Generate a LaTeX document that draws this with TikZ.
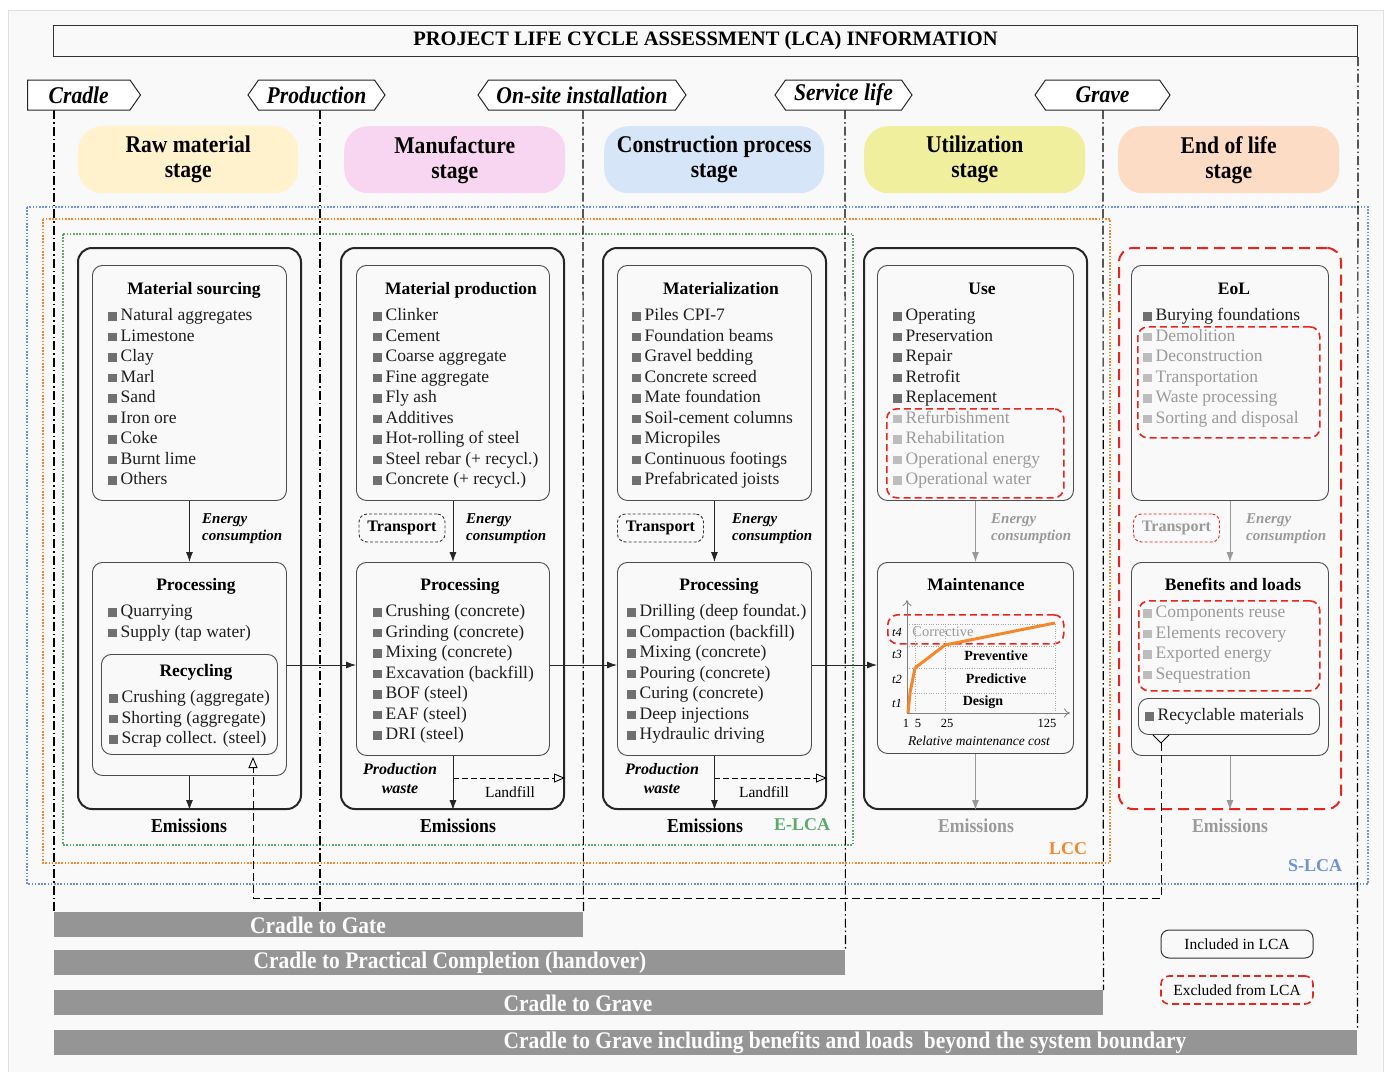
\documentclass[tikz,border=0pt]{standalone}
\usepackage{fontspec}
\setmainfont{Liberation Serif}
\newfontfamily\condfont[FakeStretch=0.9]{Liberation Serif}
\usetikzlibrary{arrows.meta,shapes.symbols,calc}

\definecolor{txt}{HTML}{1E1E1E}
\definecolor{txtgray}{HTML}{9A9A9A}
\definecolor{sqdark}{HTML}{707070}
\definecolor{sqlight}{HTML}{BDBDBD}
\definecolor{exred}{HTML}{E8241C}
\definecolor{bargray}{HTML}{959595}
\definecolor{elca}{HTML}{5DAA6C}
\definecolor{lcc}{HTML}{F5862A}
\definecolor{slca}{HTML}{6F92D8}
\definecolor{rawy}{HTML}{FFF2CC}
\definecolor{manp}{HTML}{F8D6F1}
\definecolor{conb}{HTML}{D6E6F8}
\definecolor{utly}{HTML}{EFEF9E}
\definecolor{eolo}{HTML}{FDDCC6}
\definecolor{bgc}{HTML}{F9F9F9}

\newcommand{\fsz}[2]{\fontsize{#1}{#2}\selectfont}
\newcommand{\sqd}{\textcolor{sqdark}{\rule{8.5pt}{8.5pt}}\hspace{4pt}}
\newcommand{\sql}{\textcolor{sqlight}{\rule{8.5pt}{8.5pt}}\hspace{4pt}}

\tikzset{
  bigbox/.style={draw=black!85, line width=2pt, rounded corners=14pt, anchor=north west, inner sep=0pt},
  inbox/.style={draw=black!70, line width=0.9pt, rounded corners=10pt, anchor=north west, inner sep=0pt},
  exbox/.style={draw=exred, line width=1.6pt, dash pattern=on 7pt off 4pt, rounded corners=10pt, anchor=north west, inner sep=0pt},
  stagebox/.style={rounded corners=24pt, anchor=north west, inner sep=0pt, align=center, font=\condfont\bfseries\fsz{24}{25}},
  tag/.style={draw=black!85, line width=1pt, shape=signal, signal pointer angle=110, fill=white, inner sep=0pt, minimum height=30, font=\condfont\bfseries\itshape\fsz{24}{25}},
  item/.style={anchor=base west, inner sep=0pt, text=txt, font=\fsz{17.5}{20}},
  gitem/.style={item, text=txtgray},
  ttl/.style={anchor=base, inner sep=0pt, font=\bfseries\fsz{17.5}{20}},
  ecs/.style={anchor=north west, inner sep=0pt, align=left, font=\bfseries\itshape\fsz{15}{17.5}},
  pws/.style={anchor=north, inner sep=0pt, align=center, font=\bfseries\itshape\fsz{16}{19}},
  emis/.style={anchor=base, inner sep=0pt, font=\condfont\bfseries\fsz{19.7}{20}},
  tbox/.style={draw=black!80, line width=0.9pt, dash pattern=on 3pt off 2pt, rounded corners=8pt, minimum width=86, minimum height=28, inner sep=0pt, font=\bfseries\fsz{16}{16}},
  arr/.style={-{Latex[length=10pt,width=7pt]}, line width=0.9pt, draw=black!85},
  garr/.style={arr, draw=gray!80},
  lfarr/.style={-{Triangle[open,length=11pt,width=9pt]}, line width=0.9pt, dash pattern=on 6pt off 3pt},
  phase/.style={dash pattern=on 9pt off 3pt on 1.5pt off 3pt, line width=1.2pt},
  bnd/.style={line width=1.6pt, dash pattern=on 1.6pt off 1.6pt},
  bndlbl/.style={inner sep=0pt, font=\bfseries\fsz{18}{20}},
  bar/.style={fill=bargray, anchor=north west, inner sep=0pt},
  bartxt/.style={inner sep=0pt, text=white, font=\condfont\bfseries\fsz{23.8}{24}},
  chl/.style={inner sep=0pt, font=\itshape\fsz{12.5}{14}},
  chn/.style={inner sep=0pt, font=\fsz{12.5}{14}},
  legbox/.style={minimum width=152, minimum height=28, rounded corners=8pt, inner sep=0pt, font=\fsz{15.5}{17}}
}

\begin{document}
\begin{tikzpicture}[x=1pt,y=-1pt]
  \useasboundingbox (0,0) rectangle (1389,1071);
  \fill[white] (0,0) rectangle (1389,1071);
  \filldraw[fill=bgc, draw=black!12] (8,10) rectangle (1383,1080);

  % header
  \node[draw=black!80, line width=1pt, minimum width=1304, minimum height=31, anchor=north west, inner sep=0pt, font=\bfseries\fsz{20.5}{22}] (title) at (53,25) {PROJECT LIFE CYCLE ASSESSMENT (LCA) INFORMATION};

  % system boundaries
  \draw[bnd, slca] (27,207) rectangle (1368,884);
  \draw[bnd, lcc] (43,219) rectangle (1110,863);
  \draw[bnd, elca] (63,234) rectangle (853,845);
  \node[bndlbl, text=slca] (slcal) at (1315,866) {S-LCA};
  \node[bndlbl, text=lcc] (lccl) at (1068,849) {LCC};
  \node[bndlbl, text=elca] (elcal) at (802,825) {E-LCA};

  % scope bars
  \node[bar, minimum width=529, minimum height=25] (b1) at (54,912) {};
  \node[bar, minimum width=791, minimum height=25] (b2) at (54,950) {};
  \node[bar, minimum width=1049, minimum height=25] (b3) at (54,990) {};
  \node[bar, minimum width=1303, minimum height=25] (b4) at (54,1030) {};
  \node[bartxt] (b1t) at (318,925) {Cradle to Gate};
  \node[bartxt] (b2t) at (450,963) {Cradle to Practical Completion (handover)};
  \node[bartxt] (b3t) at (578,1003) {Cradle to Grave};
  \node[bartxt] (b4t) at (845,1043) {Cradle to Grave including benefits and loads~ beyond the system boundary};

  % phase lines
  \draw[phase] (54,110) -- (b1.north west);
  \draw[phase] (320,110) -- (320,912);
  \draw[phase] (583,110) -- (b1.north east);
  \draw[phase] (845,110) -- (b2.north east);
  \draw[phase] (1103,110) -- (b3.north east);
  \draw[phase] (title.south east) -- (b4.north east);

  % phase tags
  \node[tag, signal to=east, minimum width=113, anchor=west] (cradle) at (27,95) {Cradle};
  \node[tag, signal to=east and west, minimum width=137] (prod) at (316.5,95) {Production};
  \node[tag, signal to=east and west, minimum width=208] (onsite) at (582,95) {On-site installation};
  \node[tag, signal to=east and west, minimum width=137] (serv) at (843.5,95) {Service life};
  \node[tag, signal to=east and west, minimum width=135] (grave) at (1102.5,95) {Grave};

  % stages
  \node[stagebox, fill=rawy, minimum width=220, minimum height=67] (raw) at (78,126) {Raw material\\stage};
  \node[stagebox, fill=manp, minimum width=221, minimum height=67] (man) at (344,126) {Manufacture\\stage};
  \node[stagebox, fill=conb, minimum width=220, minimum height=67] (con) at (604,126) {Construction process\\stage};
  \node[stagebox, fill=utly, minimum width=221, minimum height=67] (utl) at (864,126) {Utilization\\stage};
  \node[stagebox, fill=eolo, minimum width=221, minimum height=67] (eol) at (1118,126) {End of life\\stage};

  % column frames
  \node[bigbox, minimum width=223, minimum height=561] (c1) at (77,247) {};
  \node[bigbox, minimum width=223, minimum height=561] (c2) at (340,247) {};
  \node[bigbox, minimum width=223, minimum height=561] (c3) at (602,247) {};
  \node[bigbox, minimum width=223, minimum height=561] (c4) at (863,247) {};
  \node[bigbox, draw=exred, dash pattern=on 11pt off 6pt, minimum width=222, minimum height=561] (c5) at (1118,247) {};

  % inner boxes
  \node[inbox, minimum width=194, minimum height=235] (src1) at (92,265) {};
  \node[inbox, minimum width=194, minimum height=213] (prc1) at (92,562) {};
  \node[inbox, minimum width=176, minimum height=100] (rcy1) at (101,654) {};
  \node[inbox, minimum width=193, minimum height=235] (src2) at (356,265) {};
  \node[inbox, minimum width=193, minimum height=193] (prc2) at (356,562) {};
  \node[inbox, minimum width=194, minimum height=235] (src3) at (617,265) {};
  \node[inbox, minimum width=194, minimum height=193] (prc3) at (617,562) {};
  \node[inbox, minimum width=196, minimum height=235] (src4) at (877,265) {};
  \node[inbox, minimum width=196, minimum height=191] (prc4) at (877,562) {};
  \node[inbox, minimum width=197, minimum height=235] (src5) at (1131,265) {};
  \node[inbox, minimum width=197, minimum height=193] (prc5) at (1131,562) {};
  \node[inbox, minimum width=181, minimum height=36] (rcm5) at (1138,698) {};
  \node[exbox, minimum width=177, minimum height=89] (ex4) at (886,408) {};
  \node[exbox, minimum width=176, minimum height=29] (ex4b) at (887,614) {};
  \node[exbox, minimum width=182, minimum height=111] (ex5) at (1137,326) {};
  \node[exbox, minimum width=181, minimum height=90] (ex5b) at (1138,600) {};

  % titles
  \node[ttl] (h1) at (194,294) {Material sourcing};
  \node[ttl] (h1p) at (196,590) {Processing};
  \node[ttl] (h1r) at (196,676) {Recycling};
  \node[ttl] (h2) at (461,294) {Material production};
  \node[ttl] (h2p) at (460,590) {Processing};
  \node[ttl] (h3) at (721,294) {Materialization};
  \node[ttl] (h3p) at (719,590) {Processing};
  \node[ttl] (h4) at (982,294) {Use};
  \node[ttl] (h4p) at (976,590) {Maintenance};
  \node[ttl] (h5) at (1234,294) {EoL};
  \node[ttl] (h5p) at (1233,590) {Benefits and loads};

  % item lists
  \foreach \t [count=\i] in {Natural aggregates,Limestone,Clay,Marl,Sand,Iron ore,Coke,Burnt lime,Others}
    \node[item] (a1-\i) at (108,{320.5+20.5*(\i-1)}) {\sqd\t};
  \foreach \t [count=\i] in {Quarrying,Supply (tap water)}
    \node[item] (p1-\i) at (108,{616.5+20.5*(\i-1)}) {\sqd\t};
  \foreach \t [count=\i] in {Crushing (aggregate),Shorting (aggregate),Scrap collect. (steel)}
    \node[item] (r1-\i) at (109,{702.5+20.5*(\i-1)}) {\sqd\t};
  \foreach \t [count=\i] in {Clinker,Cement,Coarse aggregate,Fine aggregate,Fly ash,Additives,Hot-rolling of steel,Steel rebar (+ recycl.),Concrete (+ recycl.)}
    \node[item] (a2-\i) at (373,{320.5+20.5*(\i-1)}) {\sqd\t};
  \foreach \t [count=\i] in {Crushing (concrete),Grinding (concrete),Mixing (concrete),Excavation (backfill),BOF (steel),EAF (steel),DRI (steel)}
    \node[item] (p2-\i) at (373,{616.5+20.5*(\i-1)}) {\sqd\t};
  \foreach \t [count=\i] in {Piles CPI-7,Foundation beams,Gravel bedding,Concrete screed,Mate foundation,Soil-cement columns,Micropiles,Continuous footings,Prefabricated joists}
    \node[item] (a3-\i) at (632,{320.5+20.5*(\i-1)}) {\sqd\t};
  \foreach \t [count=\i] in {Drilling (deep foundat.),Compaction (backfill),Mixing (concrete),Pouring (concrete),Curing (concrete),Deep injections,Hydraulic driving}
    \node[item] (p3-\i) at (627,{616.5+20.5*(\i-1)}) {\sqd\t};
  \foreach \t [count=\i] in {Operating,Preservation,Repair,Retrofit,Replacement}
    \node[item] (a4-\i) at (893,{320.5+20.5*(\i-1)}) {\sqd\t};
  \foreach \t [count=\i] in {Refurbishment,Rehabilitation,Operational energy,Operational water}
    \node[gitem] (g4-\i) at (893,{423+20.5*(\i-1)}) {\sql\t};
  \node[item] (a5-1) at (1143,320.5) {\sqd Burying foundations};
  \foreach \t [count=\i] in {Demolition,Deconstruction,Transportation,Waste processing,Sorting and disposal}
    \node[gitem] (g5-\i) at (1143,{341+20.5*(\i-1)}) {\sql\t};
  \foreach \t [count=\i] in {Components reuse,Elements recovery,Exported energy,Sequestration}
    \node[gitem] (b5-\i) at (1143,{617.5+20.5*(\i-1)}) {\sql\t};
  \node[item] (rc5) at (1145,720.5) {\sqd Recyclable materials};

  % transport
  \node[tbox] (tr2) at (402,528) {Transport};
  \node[tbox] (tr3) at (660.5,528) {Transport};
  \node[tbox, draw=exred, text=txtgray] (tr5) at (1176.5,528) {Transport};

  % energy
  \node[ecs] (e1) at (202,513) {Energy\\consumption};
  \node[ecs] (e2) at (466,513) {Energy\\consumption};
  \node[ecs] (e3) at (732,513) {Energy\\consumption};
  \node[ecs, text=txtgray] (e4) at (991,513) {Energy\\consumption};
  \node[ecs, text=txtgray] (e5) at (1246,513) {Energy\\consumption};
  \draw[arr] (src1.south) -- (prc1.north);
  \draw[arr] (src2.south) -- (prc2.north);
  \draw[arr] (src3.south) -- (prc3.north);
  \draw[garr] (src4.south) -- (prc4.north);
  \draw[garr] (src5.south) -- (prc5.north);

  % flow between columns
  \coordinate (lk) at (0,665);
  \draw[arr] (prc1.east |- lk) -- (prc2.west |- lk);
  \draw[arr] (prc2.east |- lk) -- (prc3.west |- lk);
  \draw[arr] (prc3.east |- lk) -- (prc4.west |- lk);

  % waste and emissions
  \node[pws] (w2) at (400,763) {Production\\waste};
  \node[pws] (w3) at (662,763) {Production\\waste};
  \node[anchor=base, inner sep=0pt, font=\fsz{15.5}{17}] (lf2) at (510,797) {Landfill};
  \node[anchor=base, inner sep=0pt, font=\fsz{15.5}{17}] (lf3) at (764,797) {Landfill};
  \draw[lfarr] (prc2.south |- 0,778) -- (c2.east |- 0,778);
  \draw[lfarr] (prc3.south |- 0,778) -- (c3.east |- 0,778);
  \draw[arr] (prc1.south) -- (prc1.south |- c1.south);
  \draw[arr] (prc2.south) -- (prc2.south |- c2.south);
  \draw[arr] (prc3.south) -- (prc3.south |- c3.south);
  \draw[garr] (prc4.south) -- (prc4.south |- c4.south);
  \draw[garr] (prc5.south) -- (prc5.south |- c5.south);
  \node[emis] (m1) at (189,832) {Emissions};
  \node[emis] (m2) at (458,832) {Emissions};
  \node[emis] (m3) at (705,832) {Emissions};
  \node[emis, text=txtgray] (m4) at (976,832) {Emissions};
  \node[emis, text=txtgray] (m5) at (1230,832) {Emissions};

  % maintenance chart
  \foreach \yy in {624,646,668,693} \draw[gray!70, dotted] (907,\yy) -- (1055,\yy);
  \foreach \xx in {915,945,1055} \draw[gray!70, dotted] (\xx,713) -- (\xx,624);
  \draw[gray, line width=0.8pt, -{To[length=6pt,width=9pt]}] (907,713) -- (907,600);
  \draw[gray, line width=0.8pt, -{To[length=6pt,width=9pt]}] (907,713) -- (1070,713);
  \draw[lcc, line width=3pt, line join=round] (908,713) -- (910,693) -- (915,668) -- (945,645) -- (1055,623);
  \node[chl] (t4) at (897,632) {t4};
  \node[chl] (t3) at (897,654) {t3};
  \node[chl] (t2) at (897,679) {t2};
  \node[chl] (t1) at (897,703) {t1};
  \node[chn] (x1) at (906,723) {1};
  \node[chn] (x5) at (918,723) {5};
  \node[chn] (x25) at (947,723) {25};
  \node[chn] (x125) at (1047,723) {125};
  \node[inner sep=0pt, text=txtgray, font=\fsz{14.5}{16}] (cor) at (943,632) {Corrective};
  \node[inner sep=0pt, font=\bfseries\fsz{14}{16}] (pre) at (996,656) {Preventive};
  \node[inner sep=0pt, font=\bfseries\fsz{14}{16}] (prd) at (996,679) {Predictive};
  \node[inner sep=0pt, font=\bfseries\fsz{14}{16}] (dsg) at (983,702) {Design};
  \node[inner sep=0pt, font=\itshape\fsz{13.5}{15}] (rmc) at (979,741) {Relative maintenance cost};

  % recycled materials loop
  \coordinate (rtail) at (1161,743);
  \draw[line width=1pt] (1153,735) -- (rtail) -- (1169,735);
  \draw[lfarr, dash pattern=on 8pt off 4pt] (rtail) -- (1161,898) -- (253,898) -- (253,757);

  % legend
  \node[legbox, draw=black!80, line width=1pt] (incl) at (1237,944) {Included in LCA};
  \node[legbox, draw=exred, line width=1.6pt, dash pattern=on 7pt off 4pt] (excl) at (1237,990) {Excluded from LCA};
\end{tikzpicture}
\end{document}
